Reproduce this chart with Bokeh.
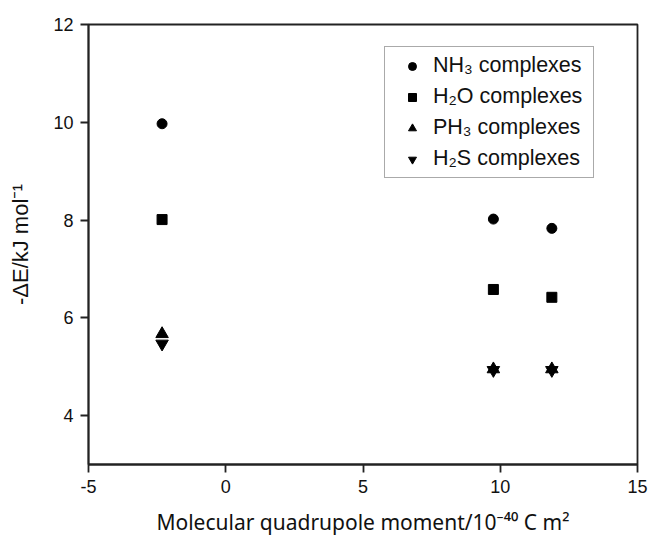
from bokeh.plotting import figure
from bokeh.models import Range1d, FixedTicker, Legend, LegendItem
from bokeh.embed import file_html
from bokeh.resources import INLINE

# Data
quadrupole = [-2.32, 9.75, 11.88]
nh3_energy = [9.97, 8.02, 7.83]
h2o_energy = [8.01, 6.58, 6.42]
ph3_energy = [5.67, 4.95, 4.95]
h2s_energy = [5.47, 4.93, 4.93]

x_ticks = [-5, 0, 5, 10, 15]
x_tick_labels = {-5: "-5", 0: "0", 5: "5", 10: "10", 15: "15"}
y_ticks = [4, 6, 8, 10, 12]

labels = ["NH\u2083 complexes", "H\u2082O complexes", "PH\u2083 complexes", "H\u2082S complexes"]

FONT = "Liberation Sans, Noto Sans"

p = figure(
    width=649, height=538,
    x_range=Range1d(-5, 15), y_range=Range1d(3, 12),
    output_backend="svg", toolbar_location=None,
    min_border_left=88, min_border_top=24, min_border_right=12, min_border_bottom=71,
)
p.background_fill_color = "white"
p.border_fill_color = "white"
p.outline_line_color = "#222222"
p.outline_line_width = 1.8
p.xgrid.visible = False
p.ygrid.visible = False

p.xaxis.ticker = FixedTicker(ticks=x_ticks)
p.xaxis.major_label_overrides = x_tick_labels
p.yaxis.ticker = FixedTicker(ticks=y_ticks)
p.xaxis.axis_label = "Molecular quadrupole moment/10\u207b\u2074\u2070 C m\u00b2"
p.yaxis.axis_label = "-\u0394E/kJ mol\u207b\u00b9"

for ax in (p.xaxis[0], p.yaxis[0]):
    ax.axis_line_color = "#222222"
    ax.axis_line_width = 1.8
    ax.major_tick_line_color = "#222222"
    ax.major_tick_line_width = 1.8
    ax.major_tick_out = 8
    ax.major_tick_in = 0
    ax.minor_tick_line_color = None
    ax.major_label_text_font = FONT
    ax.major_label_text_font_size = "18px"
    ax.major_label_text_color = "#111111"
    ax.major_label_standoff = 7
    ax.axis_label_text_font = FONT
    ax.axis_label_text_font_size = "22px"
    ax.axis_label_text_font_style = "normal"
    ax.axis_label_text_color = "#111111"

p.xaxis.axis_label_text_font = "Noto Sans"
p.xaxis.axis_label_text_font_size = "21px"
p.xaxis.axis_label_standoff = 12
p.yaxis.axis_label_standoff = 17

r1 = p.scatter(quadrupole, nh3_energy, marker="circle", size=10, color="black")
r2 = p.scatter(quadrupole, h2o_energy, marker="square", size=10, color="black")
r3 = p.scatter(quadrupole, ph3_energy, marker="triangle", size=12.5, color="black")
r4 = p.scatter(quadrupole, h2s_energy, marker="inverted_triangle", size=12.5, color="black")

legend = Legend(
    items=[LegendItem(label=l, renderers=[r]) for l, r in zip(labels, [r1, r2, r3, r4])],
    location=(296, 286),
    label_text_font=FONT,
    label_text_font_size="21.5px",
    label_text_color="#111111",
    padding=6, spacing=6,
    glyph_width=42, glyph_height=20,
    label_standoff=0, label_width=154,
    border_line_color="#555555", border_line_width=1,
    background_fill_color="white", background_fill_alpha=1.0,
    margin=0,
)
p.add_layout(legend, "center")

open("out.html", "w").write(file_html(p, INLINE))
